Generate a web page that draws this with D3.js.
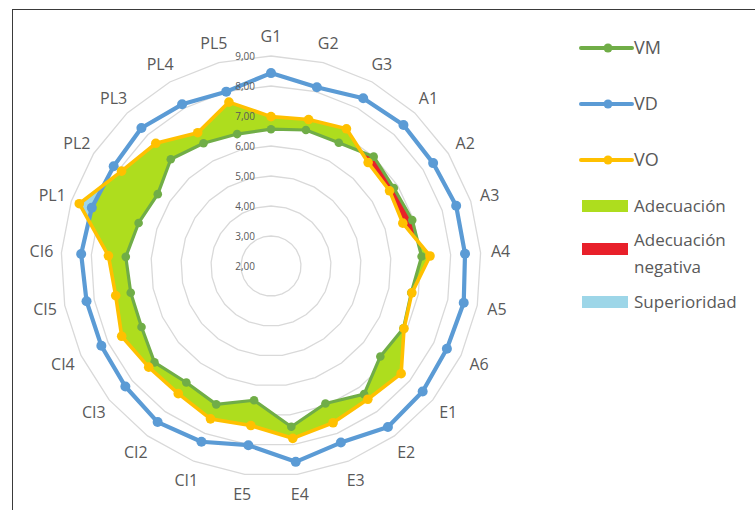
<!DOCTYPE html>
<html>
<head>
<meta charset="utf-8">
<script src="https://cdn.jsdelivr.net/npm/d3@7"></script>
<style>
  html, body { margin: 0; padding: 0; background: #ffffff; }
  svg { display: block; }
  text { font-family: "Open Sans", "Lato", sans-serif; fill: #595959; }
</style>
</head>
<body>
<svg id="chart" width="755" height="510"></svg>
<script>
// Dimensions evaluated for each indicator
const categories = ["G1","G2","G3","A1","A2","A3","A4","A5","A6","E1","E2","E3","E4","E5",
                    "CI1","CI2","CI3","CI4","CI5","CI6","PL1","PL2","PL3","PL4","PL5"];

// Series values
const VM = [6.56, 6.68, 6.69, 7.00, 6.85, 6.95, 7.03, 6.76, 6.88, 6.73, 7.28, 6.93, 7.40,
            6.51, 6.96, 6.80, 7.04, 6.77, 6.76, 6.85, 6.64, 6.47, 6.88, 6.67, 6.54];
const VD = [8.43, 8.15, 8.38, 8.45, 8.40, 8.49, 8.48, 8.54, 8.48, 8.56, 8.63, 8.33, 8.58,
            8.02, 8.30, 8.43, 8.30, 8.25, 8.26, 8.34, 8.28, 8.21, 8.31, 8.15, 8.00];
const VO = [6.98, 7.04, 7.22, 6.73, 6.68, 6.62, 7.31, 6.78, 6.90, 7.63, 7.49, 7.62, 7.79,
            7.36, 7.48, 7.26, 7.29, 7.50, 7.27, 7.43, 8.72, 7.90, 7.61, 7.07, 7.64];

// Radial axis ticks
const tickValues = [2, 3, 4, 5, 6, 7, 8, 9];
const tickLabels = ["2,00","3,00","4,00","5,00","6,00","7,00","8,00","9,00"];

// Legend entries
const lineLegend = ["VM", "VD", "VO"];
const areaLegend = [["Adecuación"], ["Adecuación", "negativa"], ["Superioridad"]];

const colors = {
  VM: "#70AD47", VD: "#5B9BD5", VO: "#FFC000",
  fit: "#AEDD1E", negative: "#E8202A", superior: "#9DD6E8", grid: "#D9D9D9"
};

const svg = d3.select("#chart");
const W = 755, H = 510;
const cx = 271, cy = 266;
const r = d3.scaleLinear().domain([2, 9]).range([0, 210]);
const n = categories.length;
const angle = d3.scaleLinear().domain([0, n]).range([0, 2 * Math.PI]);

// Outer frame
svg.append("rect")
  .attr("x", 12.5).attr("y", 9.5).attr("width", 800).attr("height", 600)
  .attr("fill", "none").attr("stroke", "#3a3a3a").attr("stroke-width", 1);

const g = svg.append("g").attr("transform", `translate(${cx},${cy})`);

const radial = d3.lineRadial()
  .angle((d, i) => angle(i))
  .radius(d => r(d))
  .curve(d3.curveLinearClosed);

// Grid polygons
g.append("g").selectAll("path")
  .data(tickValues.filter(v => v > 2))
  .join("path")
  .attr("d", v => radial(categories.map(() => v)))
  .attr("fill", "none")
  .attr("stroke", colors.grid)
  .attr("stroke-width", 1.3);

// Masks and clips for the comparison areas (in the centred coordinate system)
const defs = svg.append("defs");
function maskWithout(id, values) {
  const m = defs.append("mask").attr("id", id).attr("maskUnits", "userSpaceOnUse")
    .attr("x", -cx).attr("y", -cy).attr("width", W).attr("height", H);
  m.append("rect").attr("x", -cx).attr("y", -cy).attr("width", W).attr("height", H).attr("fill", "white");
  m.append("path").attr("d", radial(values)).attr("fill", "black");
}
maskWithout("notVM", VM);
maskWithout("notVO", VO);
maskWithout("notVD", VD);
defs.append("clipPath").attr("id", "inVD")
  .append("path").attr("d", radial(VD));

const areas = g.append("g");
// Adecuación: VO above VM, within VD
areas.append("g").attr("mask", "url(#notVM)")
  .append("path").attr("d", radial(VO)).attr("clip-path", "url(#inVD)")
  .attr("fill", colors.fit);
// Adecuación negativa: VM above VO
areas.append("g").attr("mask", "url(#notVO)")
  .append("path").attr("d", radial(VM)).attr("fill", colors.negative);
// Superioridad: VO beyond VD
areas.append("g").attr("mask", "url(#notVD)")
  .append("path").attr("d", radial(VO)).attr("fill", colors.superior);

// Series lines with markers
const series = [
  { name: "VM", values: VM, width: 3.2, mr: 4.3 },
  { name: "VD", values: VD, width: 4.2, mr: 5 },
  { name: "VO", values: VO, width: 3.6, mr: 4.8 }
];
series.forEach(s => {
  const sg = g.append("g");
  sg.append("path").attr("d", radial(s.values))
    .attr("fill", "none").attr("stroke", colors[s.name])
    .attr("stroke-width", s.width).attr("stroke-linejoin", "round");
  sg.selectAll("circle").data(s.values).join("circle")
    .attr("cx", (d, i) => r(d) * Math.sin(angle(i)))
    .attr("cy", (d, i) => -r(d) * Math.cos(angle(i)))
    .attr("r", s.mr)
    .attr("fill", colors[s.name]);
});

// Radial axis labels
g.append("g").selectAll("text")
  .data(tickValues)
  .join("text")
  .attr("x", -16)
  .attr("y", v => -r(v))
  .attr("dy", "0.35em")
  .attr("text-anchor", "end")
  .attr("font-size", 10)
  .text((v, i) => tickLabels[i]);

// Category labels
const labelR = 230;
g.append("g").selectAll("text")
  .data(categories)
  .join("text")
  .attr("x", (d, i) => labelR * Math.sin(angle(i)))
  .attr("y", (d, i) => -labelR * Math.cos(angle(i)))
  .attr("dy", "0.36em")
  .attr("text-anchor", "middle")
  .attr("font-size", 16)
  .text(d => d);

// Legend
const lg = svg.append("g");
const lineRows = [48, 104, 160];
lineLegend.forEach((name, i) => {
  const y = lineRows[i];
  lg.append("line").attr("x1", 581).attr("x2", 632).attr("y1", y).attr("y2", y)
    .attr("stroke", colors[name]).attr("stroke-width", 4).attr("stroke-linecap", "round");
  lg.append("circle").attr("cx", 608).attr("cy", y).attr("r", 4.5).attr("fill", colors[name]);
  lg.append("text").attr("x", 634).attr("y", y).attr("dy", "0.36em")
    .attr("font-size", 18).text(name);
});
const areaKeys = ["fit", "negative", "superior"];
const boxRows = [206, 249, 302];
areaLegend.forEach((lines, i) => {
  const y = boxRows[i];
  lg.append("rect").attr("x", 582).attr("y", y - 6).attr("width", 46).attr("height", 12)
    .attr("fill", colors[areaKeys[i]]);
  const t = lg.append("text").attr("x", 634).attr("font-size", 17);
  const y0 = lines.length === 1 ? y : y - 9;
  lines.forEach((s, j) => {
    t.append("tspan").attr("x", 634).attr("y", y0 + j * 27).attr("dy", "0.36em").text(s);
  });
});
</script>
</body>
</html>
